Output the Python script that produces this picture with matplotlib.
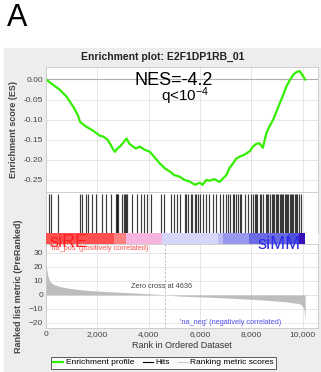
import matplotlib
matplotlib.use("Agg")
import matplotlib.pyplot as plt
from matplotlib.patches import Rectangle
from matplotlib.lines import Line2D
from matplotlib.ticker import FuncFormatter

plt.rcParams['font.family'] = ['Liberation Sans', 'DejaVu Sans']
plt.rcParams['mathtext.default'] = 'regular'

# running enrichment score (rank, ES)
es_rank = [0, 250, 545, 804, 1064, 1250, 1323, 1450, 1582, 1800,
           1971, 2100, 2231, 2400, 2490, 2600, 2685, 2780, 2879, 3000,
           3139, 3250, 3398, 3500, 3658, 3850, 4047, 4250, 4436, 4650,
           4825, 5000, 5214, 5400, 5603, 5800, 5992, 6100, 6250, 6381,
           6550, 6770, 6900, 7030, 7150, 7289, 7400, 7548, 7700, 7808,
           7950, 8067, 8200, 8327, 8450, 8586, 8700, 8846, 8950, 9105,
           9250, 9365, 9500, 9624, 9750, 9884, 9950, 10100]
es_value = [0, -0.012, -0.026, -0.043, -0.068, -0.09, -0.105, -0.112, -0.118, -0.126,
            -0.134, -0.14, -0.142, -0.15, -0.159, -0.172, -0.180, -0.172, -0.167, -0.158,
            -0.147, -0.160, -0.167, -0.172, -0.167, -0.175, -0.180, -0.195, -0.209, -0.222,
            -0.229, -0.238, -0.242, -0.250, -0.254, -0.262, -0.257, -0.262, -0.25, -0.252,
            -0.248, -0.255, -0.246, -0.238, -0.22, -0.209, -0.198, -0.192, -0.188, -0.184,
            -0.178, -0.167, -0.160, -0.159, -0.170, -0.134, -0.118, -0.101, -0.085, -0.060,
            -0.038, -0.018, -0.002, 0.011, 0.018, 0.021, 0.015, 0.0]

# gene set hits (ranks)
hits = [117, 206, 467, 1323, 1412, 1545, 1646, 1802, 1934, 2191, 2323, 2518, 2712,
        2750, 2774, 2820, 2969, 3035, 3080, 3120, 3163, 3358, 3553, 3685, 3813,
        3942, 4074, 4463, 4591, 4852, 4981, 5109, 5241, 5409, 5450, 5537, 5669,
        5700, 5798, 5850, 5926, 6019, 6121, 6253, 6354, 6510, 6615, 6770, 6899,
        7031, 7080, 7160, 7288, 7330, 7393, 7482, 7550, 7615, 7743, 7872, 8004,
        8050, 8132, 8180, 8222, 8327, 8380, 8456, 8560, 8600, 8650, 8743, 8800,
        8848, 8900, 8949, 9000, 9039, 9100, 9171, 9200, 9250, 9300, 9350, 9389,
        9450, 9494, 9550, 9600, 9623, 9700, 9751, 9800, 9852, 9950]

# ranked list metric (rank, value)
metric_rank = [0, 30, 80, 155, 300, 545, 900, 1323, 1800, 2360, 3000, 3660, 4200,
               4636, 5200, 6500, 7500, 8450, 9300, 9880, 10000, 10060, 10090, 10100]
metric_value = [24, 18, 13, 9.5, 7.5, 6, 4.8, 3.8, 3.0, 2.4, 1.8, 1.2, 0.6,
                0, -0.8, -1.7, -2.6, -3.6, -4.8, -6.2, -8, -11, -16, -20]

# colour bar segments (start rank, end rank, colour)
bar_start = [0, 2650, 3120, 4510, 6690, 6890, 7900, 9440, 9850]
bar_end = [2650, 3120, 4510, 6690, 6890, 7900, 9440, 9850, 10100]
bar_color = ['#ff4f4f', '#ff8080', '#f5b5df', '#d6d6fa', '#bcbcf4',
             '#9898ee', '#6a6ae4', '#5050dc', '#3a10b8']

zero_cross = 4636
xmax = 10600

W, H = 321, 372
fig = plt.figure(figsize=(W / 100, H / 100), dpi=100)
fig.patches.append(Rectangle((4 / W, 0), 1, 1 - 48 / H, transform=fig.transFigure,
                             color='#ededed', zorder=-10))


def fy(y):
    return 1 - y / H


left, width = 46 / W, (318 - 46) / W
ax_es = fig.add_axes([left, fy(192), width, (192 - 67) / H])
ax_hit = fig.add_axes([left, fy(233), width, (233 - 192) / H])
ax_bar = fig.add_axes([left, fy(244), width, (244 - 233) / H])
ax_m = fig.add_axes([left, fy(328), width, (328 - 244) / H])

grid_kw = dict(color='#e2e2e2', lw=0.6)
for ax in (ax_es, ax_hit, ax_bar, ax_m):
    ax.set_facecolor('white')
    ax.set_xlim(0, xmax)
    for s in ax.spines.values():
        s.set_color('#c8c8c8')
        s.set_linewidth(0.6)
    ax.tick_params(length=0, labelsize=6, colors='#444444', pad=2)
    ax.set_xticks([0, 2000, 4000, 6000, 8000, 10000])

# ES panel
ax_es.set_ylim(-0.280, 0.031)
ax_es.set_yticks([0, -0.05, -0.10, -0.15, -0.20, -0.25])
ax_es.yaxis.set_major_formatter(FuncFormatter(lambda v, p: f"{v:.2f}"))
ax_es.grid(True, **grid_kw)
ax_es.set_axisbelow(True)
ax_es.set_xticklabels([])
ax_es.axhline(0, color='#b0b0b0', lw=0.8)
ax_es.plot(es_rank, es_value, color='#33ee00', lw=1.6)
ax_es.set_ylabel('Enrichment score (ES)', fontsize=6.5, weight='bold', color='#444444',
                 labelpad=4)

# hits panel
ax_hit.set_ylim(0, 1)
ax_hit.set_yticks([])
ax_hit.set_xticklabels([])
ax_hit.grid(True, axis='x', **grid_kw)
ax_hit.set_axisbelow(True)
ax_hit.vlines(hits, 0, 0.94, color='#1a1a1a', lw=0.85, alpha=0.85)

# colour bar
ax_bar.set_ylim(0, 1)
ax_bar.set_yticks([])
ax_bar.set_xticklabels([])
for s, e, c in zip(bar_start, bar_end, bar_color):
    ax_bar.axvspan(s, e, color=c, lw=0)
for s in ax_bar.spines.values():
    s.set_visible(False)

# ranked metric panel
ax_m.set_ylim(-23.6, 36.4)
ax_m.set_yticks([30, 20, 10, 0, -10, -20])
ax_m.grid(True, **grid_kw)
ax_m.set_axisbelow(True)
ax_m.fill_between(metric_rank, metric_value, 0, color='#bdbdbd', lw=0)
ax_m.axvline(zero_cross, color='#b8b8b8', lw=0.7, ls=(0, (2, 2)))
ax_m.xaxis.set_major_formatter(FuncFormatter(lambda v, p: f"{int(v):,}"))
ax_m.set_xlabel('Rank in Ordered Dataset', fontsize=6.5, color='#333333', labelpad=2)
ax_m.set_ylabel('Ranked list metric (PreRanked)', fontsize=6.5, weight='bold',
                color='#444444', labelpad=4)

# texts
fig.text(7 / W, fy(18), 'A', fontsize=22, va='center', ha='left')
fig.text(163 / W, fy(57), 'Enrichment plot: E2F1DP1RB_01', fontsize=7.5,
         weight='bold', ha='center', va='center', color='#222222')
fig.text(135 / W, fy(85), 'NES=-4.2', fontsize=13, ha='left', va='baseline')
fig.text(161 / W, fy(101), 'q<10$^{-4}$', fontsize=11, ha='left', va='baseline')
fig.text(50 / W, fy(248), "'na_pos' (positively correlated)", fontsize=5.3,
         color='#ff5050', ha='left', va='center')
fig.text(50 / W, fy(247), 'siRE', fontsize=13, color='#ff2020', ha='left',
         va='baseline')
fig.text(258 / W, fy(249), 'siMM', fontsize=13, color='#2a2ae6', ha='left',
         va='baseline')
fig.text(162 / W, fy(287), 'Zero cross at 4636', fontsize=5.3, color='#444444',
         ha='center', va='center')
fig.text(231 / W, fy(322), "'na_neg' (negatively correlated)", fontsize=5.3,
         color='#5050ee', ha='center', va='center')

handles = [Line2D([], [], color='#33ee00', lw=1.6),
           Line2D([], [], color='black', lw=0.8),
           Line2D([], [], color='#cccccc', lw=0.8)]
leg = fig.legend(handles, ['Enrichment profile', 'Hits', 'Ranking metric scores'],
                 loc='center', bbox_to_anchor=(163.5 / W, fy(362.5)), ncol=3,
                 fontsize=6, frameon=True, fancybox=False, handlelength=1.2,
                 handletextpad=0.3, columnspacing=1.0, borderpad=0.25)
leg.get_frame().set_edgecolor('#333333')
leg.get_frame().set_linewidth(0.7)

fig.savefig('out.png', dpi=100)
